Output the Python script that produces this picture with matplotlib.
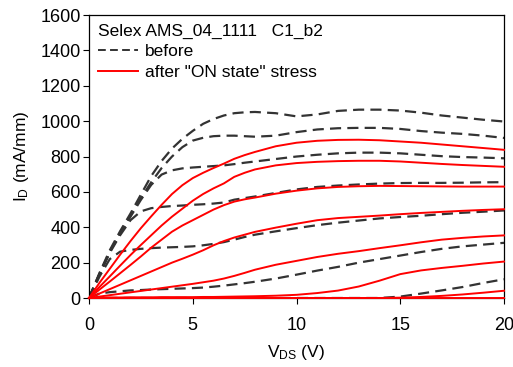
import matplotlib
matplotlib.use("Agg")
import matplotlib.pyplot as plt
from matplotlib.lines import Line2D

plt.rcParams['font.family'] = ['Liberation Sans', 'DejaVu Sans']
plt.rcParams['mathtext.fontset'] = 'custom'
plt.rcParams['mathtext.rm'] = 'Liberation Sans'
plt.rcParams['mathtext.it'] = 'Liberation Sans:italic'

# Сетка по V_DS (В)
v = [0, 0.5, 1, 1.5, 2, 2.5, 3, 3.5, 4, 4.5, 5, 5.5, 6, 6.5, 7, 7.5, 8,
     9, 10, 11, 12, 13, 14, 15, 16, 17, 18, 19, 20]

# До стресса (штриховые)
before_1 = [0, 140, 270, 378, 478, 585, 690, 775, 845, 900, 945, 985, 1012, 1032, 1045, 1050, 1052,
            1045, 1027, 1038, 1058, 1065, 1065, 1060, 1048, 1032, 1020, 1008, 998]
before_2 = [0, 135, 262, 368, 465, 565, 655, 735, 800, 853, 890, 906, 915, 918, 918, 915, 912,
            918, 938, 953, 960, 962, 962, 956, 944, 935, 928, 918, 905]
before_3 = [0, 135, 260, 365, 460, 555, 640, 698, 722, 733, 738, 742, 746, 750, 757, 765, 772,
            786, 800, 810, 818, 822, 822, 818, 810, 802, 797, 794, 790]
before_4 = [0, 130, 255, 355, 440, 490, 508, 515, 520, 523, 527, 530, 534, 540, 556, 565, 574,
            594, 614, 628, 636, 642, 647, 650, 651, 651, 652, 654, 655]
before_5 = [0, 120, 220, 262, 272, 278, 282, 285, 287, 289, 292, 298, 306, 316, 330, 345, 358,
            377, 395, 412, 426, 438, 450, 458, 465, 474, 482, 488, 495]
before_6 = [0, 25, 33, 38, 43, 45, 48, 50, 52, 54, 56, 59, 64, 70, 77, 84, 92,
            110, 132, 155, 176, 200, 220, 240, 260, 278, 292, 302, 312]
before_7 = [0, 0, 0, 0, 0, 0, 0, 0, 0, 0, 0, 0, 0, 0, 0, 0, 0,
            0, 0, 0, 0, 0, 0, 8, 25, 43, 62, 85, 106]

# После стресса "ON state" (красные)
after_1 = [0, 85, 165, 245, 322, 395, 462, 527, 588, 638, 678, 708, 735, 760, 787, 808, 826,
           858, 878, 889, 894, 895, 892, 885, 878, 868, 858, 848, 838]
after_2 = [0, 62, 122, 183, 243, 300, 355, 410, 460, 505, 550, 588, 620, 648, 685, 708, 727,
           750, 763, 770, 774, 776, 776, 772, 765, 758, 752, 747, 742]
after_3 = [0, 47, 93, 140, 187, 235, 285, 330, 375, 410, 440, 470, 500, 525, 545, 558, 568,
           590, 607, 620, 628, 632, 634, 633, 632, 631, 630, 630, 630]
after_4 = [0, 25, 50, 75, 100, 125, 150, 175, 200, 222, 245, 270, 298, 322, 342, 358, 374,
           398, 420, 440, 452, 459, 466, 474, 481, 487, 493, 498, 502]
after_5 = [0, 8, 16, 24, 32, 40, 48, 56, 64, 72, 80, 89, 98, 110, 125, 142, 160,
           188, 210, 232, 250, 265, 282, 298, 315, 330, 340, 348, 354]
after_6 = [0, 2, 3, 3, 4, 4, 4, 5, 5, 5, 5, 6, 6, 7, 8, 9, 10,
           13, 18, 28, 42, 65, 98, 135, 156, 170, 182, 195, 206]
after_7 = [0, 0, 0, 0, 0, 0, 0, 0, 0, 0, 0, 0, 0, 0, 0, 0, 0,
           0, 0, 0, 0, 0, 0, 2, 6, 12, 20, 30, 41]
after_8 = [0] * len(v)

before = [before_1, before_2, before_3, before_4, before_5, before_6, before_7]
after = [after_1, after_2, after_3, after_4, after_5, after_6, after_7, after_8]

fig = plt.figure(figsize=(5.13, 3.67), dpi=100)
ax = fig.add_axes([0.1735, 0.188, 0.809, 0.771])

dash_color = '#333333'
for s in before:
    ax.plot(v, s, color=dash_color, linewidth=1.6, dashes=(5, 2.8))
for s in after:
    ax.plot(v, s, color='red', linewidth=1.4, clip_on=False, zorder=3)

ax.set_xlim(0, 20)
ax.set_ylim(0, 1600)
ax.set_xticks([0, 5, 10, 15, 20])
ax.set_yticks(range(0, 1601, 200))
ax.tick_params(axis='both', direction='out', length=4, width=0.8, labelsize=13)
ax.tick_params(axis='x', pad=10)
ax.tick_params(axis='y', pad=2)
for sp in ax.spines.values():
    sp.set_linewidth(0.9)

ax.set_xlabel(r'V$_\mathrm{DS}$ (V)', fontsize=12.5, labelpad=6)
ax.set_ylabel(r'I$_\mathrm{D}$ (mA/mm)', fontsize=12.5, labelpad=7)

handles = [Line2D([], [], color=dash_color, linewidth=1.4, dashes=(4, 2.2)),
           Line2D([], [], color='red', linewidth=1.4)]
ax.legend(handles, ['before', 'after "ON state" stress'], title='Selex AMS_04_1111   C1_b2',
          loc='upper left', frameon=False, fontsize=12.5, title_fontsize=12.5,
          alignment='left', handlelength=2.3, handletextpad=0.4,
          borderaxespad=0.2, borderpad=0.3, labelspacing=0.3)

fig.savefig('out.png', dpi=100)
